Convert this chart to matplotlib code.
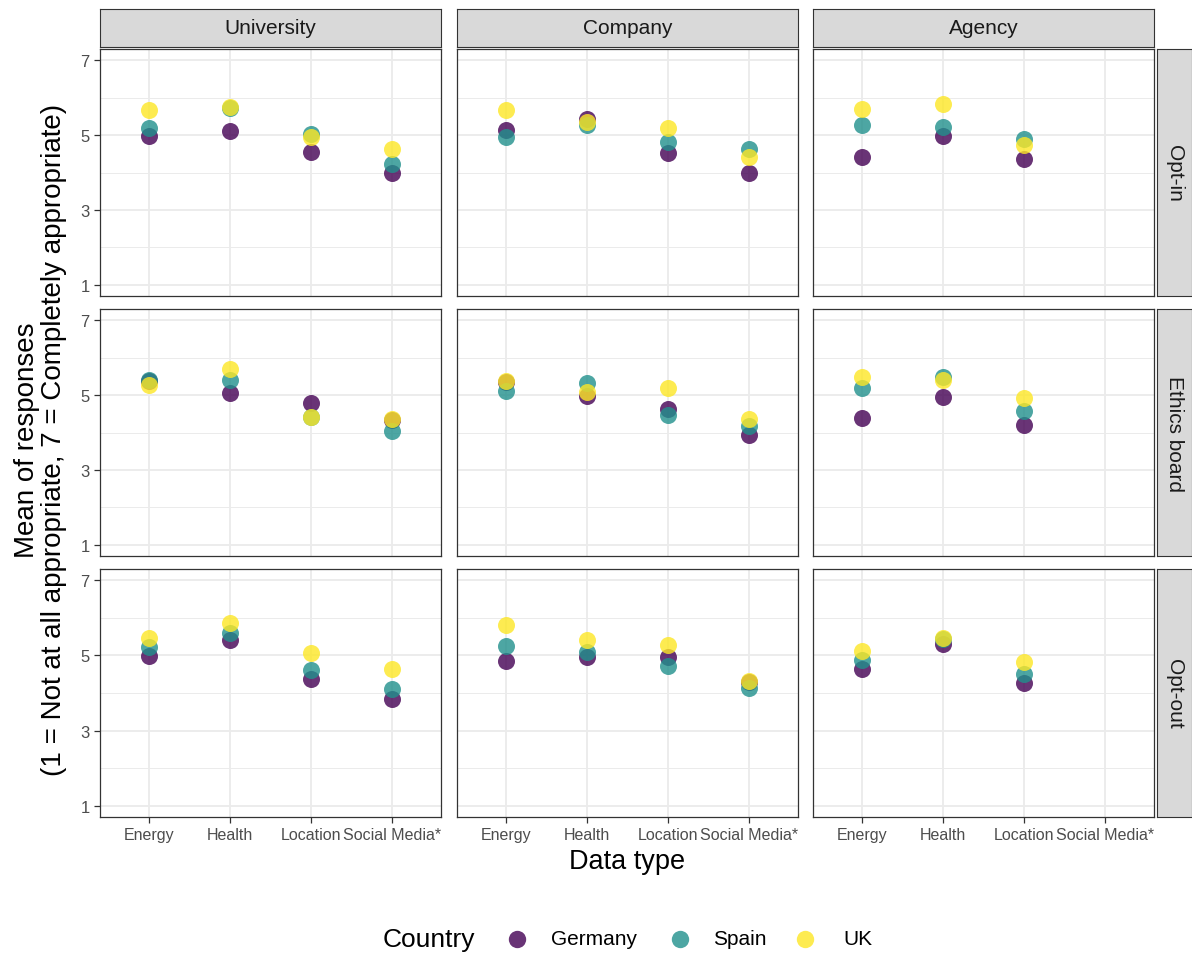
import numpy as np
import matplotlib
matplotlib.use("Agg")
import matplotlib.pyplot as plt
from matplotlib.lines import Line2D

nan = np.nan

data_types = ["Energy", "Health", "Location", "Social Media*"]
organisations = ["University", "Company", "Agency"]
consent = ["Opt-in", "Ethics board", "Opt-out"]
countries = ["Germany", "Spain", "UK"]
colors = ["#440154", "#21908C", "#FDE725"]

# mean responses, [consent row][organisation column][data type]
germany = [
    [[4.98, 5.12, 4.56, 4.00], [5.13, 5.42, 4.53, 4.00], [4.42, 4.98, 4.35, nan]],
    [[5.38, 5.06, 4.79, 4.33], [5.35, 4.97, 4.64, 3.93], [4.40, 4.95, 4.19, nan]],
    [[4.98, 5.40, 4.36, 3.84], [4.84, 4.97, 4.96, 4.29], [4.64, 5.31, 4.27, nan]],
]
spain = [
    [[5.18, 5.73, 5.02, 4.23], [4.96, 5.28, 4.82, 4.62], [5.27, 5.22, 4.89, nan]],
    [[5.41, 5.40, 4.42, 4.04], [5.11, 5.31, 4.46, 4.17], [5.19, 5.47, 4.58, nan]],
    [[5.22, 5.60, 4.60, 4.11], [5.25, 5.09, 4.73, 4.14], [4.87, 5.44, 4.51, nan]],
]
uk = [
    [[5.68, 5.76, 4.96, 4.63], [5.67, 5.36, 5.20, 4.42], [5.71, 5.83, 4.73, nan]],
    [[5.28, 5.69, 4.42, 4.37], [5.38, 5.08, 5.20, 4.37], [5.47, 5.40, 4.92, nan]],
    [[5.47, 5.86, 5.06, 4.63], [5.81, 5.42, 5.29, 4.33], [5.12, 5.47, 4.82, nan]],
]
series = [germany, spain, uk]

W, H = 1192, 954
fig = plt.figure(figsize=(W / 100, H / 100), dpi=100)
font = ["Liberation Sans", "DejaVu Sans"]


def box(x0, y0, x1, y1):
    # pixel box (top-left origin) -> figure fraction rect
    return [x0 / W, 1 - y1 / H, (x1 - x0) / W, (y1 - y0) / H]


def strip(rect, label, rot):
    sax = fig.add_axes(rect)
    sax.set_xticks([]); sax.set_yticks([])
    sax.set_facecolor("#D9D9D9")
    for s in sax.spines.values():
        s.set_color("#333333")
    sax.text(0.5, 0.5, label, ha="center", va="center", rotation=rot,
             fontsize=15, color="#1A1A1A", family=font)


col_x = [(100, 441), (457, 798), (813, 1154)]
row_y = [(50, 297), (310, 557), (570, 818)]
x = np.arange(1, 5)

for r in range(3):
    for c in range(3):
        x0, x1 = col_x[c]
        y0, y1 = row_y[r]
        ax = fig.add_axes(box(x0, y0, x1, y1))
        ax.set_xlim(0.4, 4.6)
        ax.set_ylim(0.7, 7.3)
        ax.set_yticks([1, 3, 5, 7])
        ax.set_yticks([2, 4, 6], minor=True)
        ax.set_xticks(x)
        ax.grid(which="major", color="#EBEBEB", lw=1.3)
        ax.grid(which="minor", axis="y", color="#EBEBEB", lw=0.7)
        ax.set_axisbelow(True)
        for s in ax.spines.values():
            s.set_color("#333333")
            s.set_linewidth(0.9)
        ax.tick_params(which="minor", length=0)
        ax.tick_params(which="major", color="#333333", length=4, width=0.9)
        if c == 0:
            ax.set_yticklabels(["1", "3", "5", "7"], family=font,
                               fontsize=12, color="#4D4D4D")
        else:
            ax.tick_params(axis="y", left=False, labelleft=False)
        if r == 2:
            ax.set_xticklabels(data_types, family=font, fontsize=11.5,
                               color="#4D4D4D")
        else:
            ax.tick_params(axis="x", bottom=False, labelbottom=False)

        for k in range(3):
            ax.scatter(x, series[k][r][c], s=150, color=colors[k],
                       alpha=0.8, linewidths=0, zorder=3)

        if r == 0:
            strip(box(x0, 10, x1, 48), organisations[c], 0)
        if c == 2:
            strip(box(1157, y0, 1192, y1), consent[r], -90)

fig.text(627 / W, 1 - 862 / H, "Data type", ha="center", va="center",
         fontsize=19.5, family=font)
fig.text(41 / W, 1 - 440 / H,
         "Mean of responses\n(1 = Not at all appropriate, 7 = Completely appropriate)",
         ha="center", va="center", rotation=90, fontsize=20, family=font,
         linespacing=1.05)

# legend
ly = 1 - 940 / H
fig.text(383 / W, ly, "Country", ha="left", va="center", fontsize=19, family=font)
for name, col, mx, tx in zip(countries, colors, [517, 680, 805], [551, 713, 843]):
    fig.add_artist(Line2D([mx / W], [ly], marker="o", markersize=12.5,
                          color=col, alpha=0.8, markeredgewidth=0,
                          transform=fig.transFigure))
    fig.text(tx / W, ly, name, ha="left", va="center", fontsize=15,
             family=font)

fig.savefig("out.png", dpi=100, facecolor="white")
